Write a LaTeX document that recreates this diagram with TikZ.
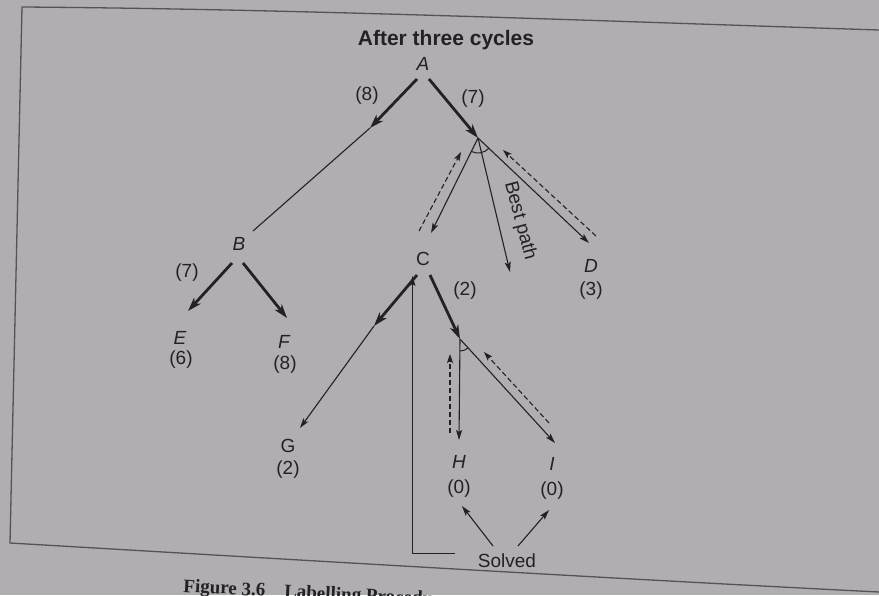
\documentclass[tikz,border=0pt]{standalone}
\usepackage{fontspec}
\setmainfont{Liberation Sans}
\newfontfamily\capfont{Liberation Serif}
\usetikzlibrary{arrows.meta}
\definecolor{paper}{RGB}{176,174,177}
\definecolor{ink}{RGB}{35,33,38}
\definecolor{framecol}{RGB}{85,83,88}
\tikzset{
  lab/.style={inner sep=0pt, text=ink, font=\fontsize{19}{19}\selectfont},
  itl/.style={inner sep=0pt, text=ink, font=\fontsize{19}{19}\selectfont\itshape},
  thk/.style={draw=ink, line width=2.8pt, -{Stealth[length=14pt,width=9pt,inset=4pt]}},
  thn/.style={draw=ink, line width=1.1pt, -{Stealth[length=10pt,width=6pt,inset=2pt]}},
  dsh/.style={draw=ink, line width=1.1pt, dash pattern=on 5pt off 3pt, -{Stealth[length=9pt,width=6pt,inset=2pt]}},
  thinline/.style={draw=ink, line width=1.1pt},
  andarc/.style={draw=ink, line width=1pt},
}
\begin{document}
\begin{tikzpicture}[x=1pt,y=-1pt]
\useasboundingbox (0,0) rectangle (879,595);
\clip (0,0) rectangle (879,595);
\fill[paper] (0,0) rectangle (879,595);
% frame of the figure
\draw[framecol, line width=1.3pt] (879,30) .. controls (600,21) and (300,9) .. (22,7) -- (10,543) .. controls (300,560) and (600,578) .. (879,592);

% labels
\node[lab, font=\fontsize{21}{21}\selectfont\bfseries] (title) at (446,40) {After three cycles};
\node[itl] (A) at (423,64) {A};
\node[lab] (c8) at (367,96) {(8)};
\node[lab] (c7) at (473,99) {(7)};
\node[itl] (B) at (239,244) {B};
\node[lab] (b7) at (187,273) {(7)};
\node[itl] (E) at (180,338) {E};
\node[lab] (e6) at (181,360) {(6)};
\node[itl] (F) at (284,342) {F};
\node[lab] (f8) at (285,365) {(8)};
\node[lab] (C) at (423,259) {C};
\node[lab] (c2) at (465,291) {(2)};
\node[itl] (D) at (591,266) {D};
\node[lab] (d3) at (591,291) {(3)};
\node[lab] (G) at (288,446) {G};
\node[lab] (g2) at (288,470) {(2)};
\node[itl] (H) at (459,462) {H};
\node[lab] (h0) at (459,489) {(0)};
\node[itl] (I) at (552,464) {I};
\node[lab] (i0) at (552,491) {(0)};
\node[lab] (S) at (507,561) {Solved};
\node[lab, rotate=-75] (bp) at (520,221) {Best path};
\node[anchor=base west, rotate=-3, inner sep=0pt, text=ink, font=\capfont\bfseries\fontsize{19}{19}\selectfont] (cap) at (183,592) {Figure 3.6\quad Labelling Procedure};

% junction and end coordinates
\coordinate (As1) at (417,79);
\coordinate (As2) at (429,79);
\coordinate (j1) at (370,128);
\coordinate (Bt) at (253,231);
\coordinate (jA) at (478,138);
\coordinate (Ce) at (431,233);
\coordinate (De) at (589,243);
\coordinate (bpe) at (510,272);
\coordinate (dc1) at (419,231);
\coordinate (dc2) at (461,152);
\coordinate (dd1) at (596,236);
\coordinate (dd2) at (503,150);
\coordinate (Bs1) at (232,263);
\coordinate (Bs2) at (243,263);
\coordinate (Ee) at (188,311);
\coordinate (Fe) at (287,318);
\coordinate (Cs1) at (417,275);
\coordinate (Cs2) at (430,275);
\coordinate (j2) at (374,326);
\coordinate (Ge) at (300,428);
\coordinate (jC) at (460,339);
\coordinate (He) at (459,440);
\coordinate (Ie) at (555,443);
\coordinate (dh1) at (450,433);
\coordinate (dh2) at (450,354);
\coordinate (di1) at (549,423);
\coordinate (di2) at (484,352);
\coordinate (Ss1) at (493,546);
\coordinate (Ss2) at (518,546);
\coordinate (Hb) at (462,506);
\coordinate (Ib) at (549,510);
\coordinate (Sv) at (455,553.5);
\coordinate (Svc) at (412.5,553.5);
\coordinate (Cb) at (412.5,276);

% A level
\draw[thk] (As1) -- (j1);
\draw[thinline] (j1) -- (Bt);
\draw[thk] (As2) -- (jA);
\draw[thn] (jA) -- (Ce);
\draw[thn] (jA) -- (bpe);
\draw[thn] (jA) -- (De);
\draw[dsh] (dc1) -- (dc2);
\draw[dsh] (dd1) -- (dd2);
\draw[andarc] (jA) ++(-116:15pt) arc[start angle=-116, end angle=-43, radius=15pt];

% B level
\draw[thk] (Bs1) -- (Ee);
\draw[thk] (Bs2) -- (Fe);

% C level
\draw[thk] (Cs1) -- (j2);
\draw[thn] (j2) -- (Ge);
\draw[thk] (Cs2) -- (jC);
\draw[thn] (jC) -- (He);
\draw[thn] (jC) -- (Ie);
\draw[dsh] (dh1) -- (dh2);
\draw[dsh] (di1) -- (di2);
\draw[andarc] (jC) ++(-90:12pt) arc[start angle=-90, end angle=-48, radius=12pt];

% Solved
\draw[thn] (Ss1) -- (Hb);
\draw[thn] (Ss2) -- (Ib);
\draw[thn, line width=1pt] (Sv) -- (Svc) -- (Cb);
\end{tikzpicture}
\end{document}
